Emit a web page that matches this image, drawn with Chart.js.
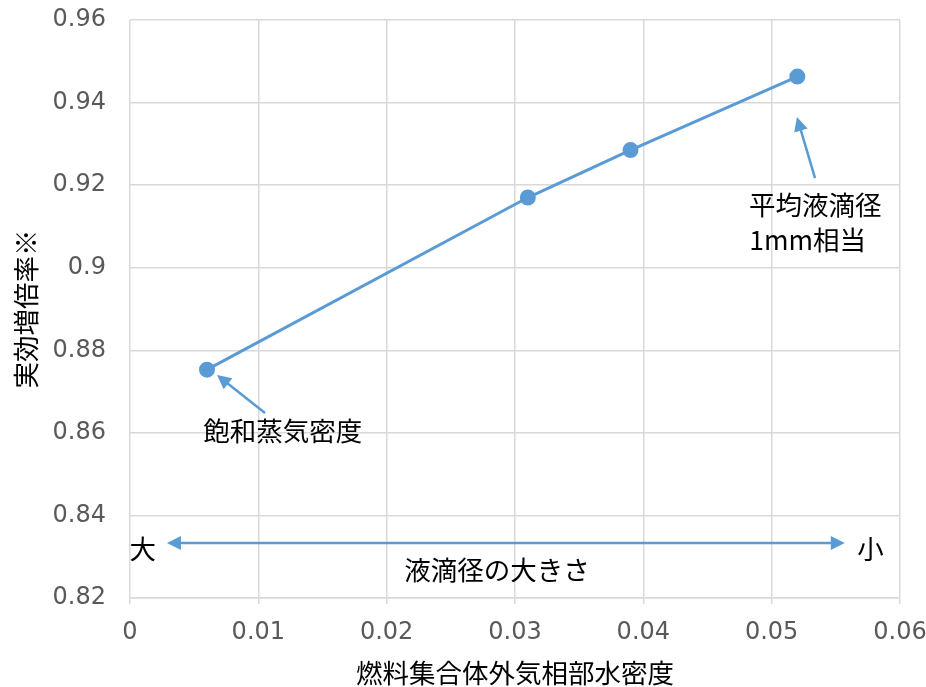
<!DOCTYPE html>
<html>
<head>
<meta charset="utf-8">
<script src="https://cdn.jsdelivr.net/npm/chart.js@4"></script>
<style>
  html, body { margin: 0; padding: 0; background: #fff; }
  #wrap { width: 926px; height: 687px; }
</style>
</head>
<body>
<div id="wrap"><canvas id="grafico"></canvas></div>
<script>
// データ
const densidade = [0.006, 0.031, 0.039, 0.052];
const multiplicacao = [0.8753, 0.9170, 0.9285, 0.9463];

const xTicks = [0, 0.01, 0.02, 0.03, 0.04, 0.05, 0.06];
const yTicks = [0.82, 0.84, 0.86, 0.88, 0.9, 0.92, 0.94, 0.96];

// 注釈テキスト [文字, x, y]
const rotulos = [
    ["飽和蒸気密度", 0.0119, 0.8605],
    ["平均液滴径", 0.0534, 0.9152],
    ["1mm相当", 0.0528, 0.9067],
    ["液滴径の大きさ", 0.0286, 0.8268],
    ["大", 0.0010, 0.8319],
    ["小", 0.0577, 0.8319]
];

// 矢印 [x始点, y始点, x終点, y終点, 両端]
const setas = [
    [0.01052, 0.8648, 0.00678, 0.8740, false],
    [0.05338, 0.9217, 0.05197, 0.9365, false],
    [0.00288, 0.8333, 0.0557, 0.8333, true]
];

const azul = "#5b9bd5";
const fonteCJK = "'Noto Sans CJK JP', 'DejaVu Sans', sans-serif";

function ponta(ctx, x1, y1, x2, y2) {
    const ang = Math.atan2(y2 - y1, x2 - x1);
    const len = 14, half = 7;
    ctx.beginPath();
    ctx.moveTo(x2, y2);
    ctx.lineTo(x2 - len * Math.cos(ang) + half * Math.sin(ang), y2 - len * Math.sin(ang) - half * Math.cos(ang));
    ctx.lineTo(x2 - len * Math.cos(ang) - half * Math.sin(ang), y2 - len * Math.sin(ang) + half * Math.cos(ang));
    ctx.closePath();
    ctx.fill();
}

const anotacoes = {
    id: "anotacoes",
    afterDatasetsDraw(chart) {
        const { ctx, scales: { x, y } } = chart;
        ctx.save();
        ctx.strokeStyle = azul;
        ctx.fillStyle = azul;
        ctx.lineWidth = 2.5;
        setas.forEach(([xa, ya, xb, yb, duplo]) => {
            const x1 = x.getPixelForValue(xa), y1 = y.getPixelForValue(ya);
            const x2 = x.getPixelForValue(xb), y2 = y.getPixelForValue(yb);
            const ang = Math.atan2(y2 - y1, x2 - x1);
            ctx.beginPath();
            ctx.moveTo(duplo ? x1 + 10 * Math.cos(ang) : x1, duplo ? y1 + 10 * Math.sin(ang) : y1);
            ctx.lineTo(x2 - 10 * Math.cos(ang), y2 - 10 * Math.sin(ang));
            ctx.stroke();
            ponta(ctx, x1, y1, x2, y2);
            if (duplo) ponta(ctx, x2, y2, x1, y1);
        });
        ctx.fillStyle = "#000";
        ctx.font = "26.5px " + fonteCJK;
        ctx.textAlign = "center";
        ctx.textBaseline = "middle";
        rotulos.forEach(([t, xv, yv]) => {
            ctx.fillText(t, x.getPixelForValue(xv), y.getPixelForValue(yv));
        });
        ctx.restore();
    }
};

const grafico = new Chart(document.getElementById("grafico"), {
    type: "scatter",
    data: {
        datasets: [{
            data: densidade.map((d, i) => ({ x: d, y: multiplicacao[i] })),
            showLine: true,
            borderColor: azul,
            backgroundColor: azul,
            borderWidth: 3,
            pointRadius: 6.5,
            pointHoverRadius: 6.5
        }]
    },
    options: {
        responsive: true,
        maintainAspectRatio: false,
        animation: false,
        plugins: { legend: { display: false }, tooltip: { enabled: false } },
        layout: { autoPadding: false, padding: { top: 20, right: 26, left: 0, bottom: 0 } },
        scales: {
            x: {
                type: "linear",
                min: 0, max: 0.06,
                afterBuildTicks: s => { s.ticks = xTicks.map(v => ({ value: v })); },
                afterFit: s => { s.height = 89; s.paddingLeft = 0; s.paddingRight = 0; },
                grid: { color: "#d9d9d9", lineWidth: 1.5, drawTicks: true, tickLength: 6 },
                border: { color: "#d9d9d9", width: 1.5 },
                ticks: {
                    color: "#595959",
                    font: { family: "'DejaVu Sans'", size: 24 },
                    padding: 14,
                    maxRotation: 0,
                    callback: v => String(v)
                },
                title: {
                    display: true,
                    text: "燃料集合体外気相部水密度",
                    color: "#000",
                    font: { family: fonteCJK, size: 26.5 },
                    padding: { top: 2, bottom: -2 }
                }
            },
            y: {
                type: "linear",
                min: 0.82, max: 0.96,
                afterBuildTicks: s => { s.ticks = yTicks.map(v => ({ value: v })); },
                afterFit: s => { s.width = 130; s.paddingTop = 0; s.paddingBottom = 0; },
                grid: { color: "#d9d9d9", lineWidth: 1.5, drawTicks: false },
                border: { display: false },
                ticks: {
                    color: "#595959",
                    font: { family: "'DejaVu Sans'", size: 24 },
                    padding: 24,
                    callback: v => String(v)
                },
                title: {
                    display: true,
                    text: "実効増倍率※",
                    color: "#000",
                    font: { family: fonteCJK, size: 26.5 },
                    padding: { top: 10, bottom: 0 }
                }
            }
        }
    },
    plugins: [anotacoes]
});
</script>
</body>
</html>
